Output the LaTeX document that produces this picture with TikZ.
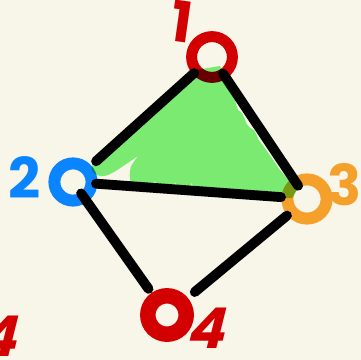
\documentclass[tikz,border=0pt]{standalone}
\usepackage{fontspec}
\setmainfont{Poppins}
\usepackage{xcolor}
\definecolor{bgcream}{HTML}{F8F5E9}
\definecolor{numred}{HTML}{D20000}
\definecolor{numblue}{HTML}{0A84FF}
\definecolor{numorange}{HTML}{F5A02A}
\definecolor{fillgreen}{HTML}{7EF57B}
\usetikzlibrary{positioning}

\begin{document}
\begin{tikzpicture}[x=0.025cm, y=-0.025cm, line cap=round, line join=round]
    \tikzstyle{vertex}=[circle, inner sep=0pt, minimum size=1.02cm, line width=7.8pt]
    \tikzstyle{edge}=[draw=black, line width=7pt]
    \tikzstyle{num}=[font=\fontsize{40}{40}\selectfont\bfseries, inner sep=0pt]

    \useasboundingbox (0,0) rectangle (361,360);
    \clip (0,0) rectangle (361,360);
    \fill[bgcream] (0,0) rectangle (361,360);

    % vertices
    \node[vertex, draw=numred] (n1) at (212,57) {};
    \node[vertex, draw=numblue, minimum size=0.93cm, line width=8.5pt] (n2) at (73,182) {};
    \node[vertex, draw=numorange, minimum size=0.98cm, line width=8.5pt] (n3) at (307,199) {};
    \node[vertex, draw=numred, minimum size=0.96cm, line width=11pt] (n4) at (167,315) {};

    % shaded face 1-2-3
    \fill[fillgreen, blend mode=multiply]
        (196,70) -- (220,66) -- (233,95) -- (238,110)
        .. controls (246,114) and (244,124) .. (250,128)
        .. controls (258,130) and (256,140) .. (262,144)
        -- (280,170) -- (297,190) -- (292,198) -- (222,197)
        .. controls (218,197) and (210,197) .. (208,187)
        .. controls (206,199) and (193,198) .. (192,182)
        .. controls (190,194) and (177,194) .. (175,182)
        .. controls (172,196) and (157,195) .. (155,181)
        .. controls (147,193) and (124,193) .. (131,166) -- (138,156)
        .. controls (120,168) and (108,178) .. (100,176)
        .. controls (94,175) and (90,170) .. (92,166) -- cycle;

    % edges
    \draw[edge, shorten <=0.6cm, shorten >=0.775cm] (n1.center) -- (n2.center);
    \draw[edge, shorten <=0.5cm, shorten >=0.4cm] (n1.center) -- (n3.center);
    \draw[edge, shorten <=0.575cm, shorten >=0.65cm] (n2.center) -- (n3.center);
    \draw[edge, shorten <=0.35cm, shorten >=0.8cm] (n2.center) -- (n4.center);
    \draw[edge, shorten <=0.65cm, shorten >=0.9cm] (n3.center) -- (n4.center);

    % numbers
    \node[num, text=numred, rotate=-8] (l1) at (182,22) {1};
    \node[num, text=numblue] (l2) at (25,178) {2};
    \node[num, text=numorange] (l3) at (345,185) {3};
    \node[num, text=numred, xslant=0.25] (l4) at (210,328) {4};
    \node[num, text=numred, xslant=0.25] (l4b) at (2,336) {4};
\end{tikzpicture}
\end{document}
